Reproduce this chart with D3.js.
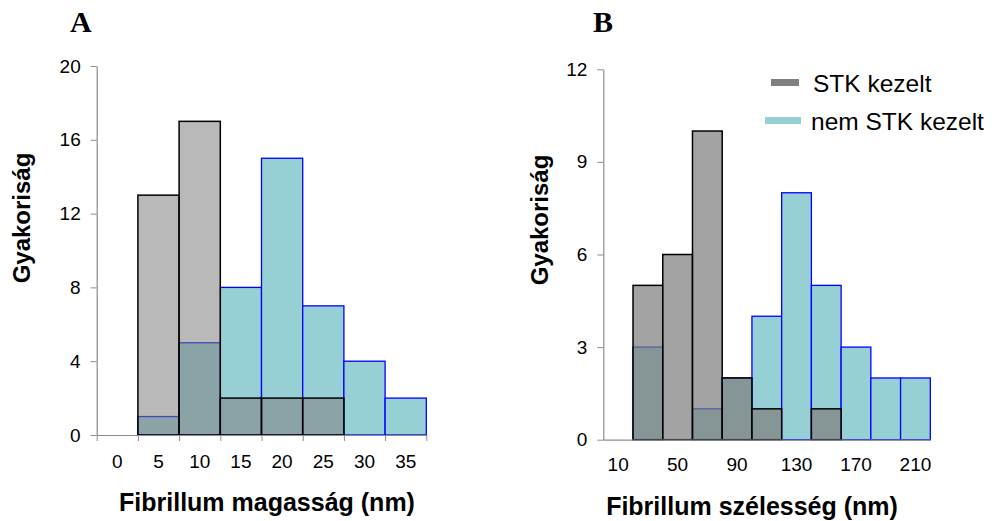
<!DOCTYPE html>
<html>
<head>
<meta charset="utf-8">
<script src="https://cdn.jsdelivr.net/npm/d3@7"></script>
<style>
  body { margin: 0; background: #fff; }
  svg { display: block; }
  .tick text { font-family: Arial, "Liberation Sans", sans-serif; }
</style>
</head>
<body>
<div id="chart"></div>
<script>
// data - panel A (height)
var heightBins = ["0", "5", "10", "15", "20", "25", "30", "35"];
var heightTreated = [0, 13, 17, 2, 2, 2, 0, 0];
var heightUntreated = [0, 1, 5, 8, 15, 7, 4, 2];
var heightTicks = [0, 4, 8, 12, 16, 20];

// data - panel B (width)
var widthBins = ["10", "30", "50", "70", "90", "110", "130", "150", "170", "190", "210"];
var widthTreated = [0, 5, 6, 10, 2, 1, 0, 1, 0, 0, 0];
var widthUntreated = [0, 3, 0, 1, 2, 4, 8, 5, 3, 2, 2];
var widthTicks = [0, 3, 6, 9, 12];
var widthLabels = ["10", "50", "90", "130", "170", "210"];

var seriesNames = ["STK kezelt", "nem STK kezelt"];

var tealColor = "#96cfd4";
var grayColor = "#808080";
var axisColor = "#8c8c8c";

var svg = d3.select("#chart")
    .append("svg")
    .attr("width", 992)
    .attr("height", 521);

function drawPanel(opt) {
    var x = d3.scaleBand()
        .domain(opt.bins)
        .range([opt.left, opt.right])
        .padding(0);

    var y = d3.scaleLinear()
        .domain([0, opt.ymax])
        .range([opt.bottom, opt.top]);

    var g = svg.append("g");

    // untreated (teal) bars underneath
    g.append("g")
        .selectAll("rect")
        .data(opt.untreated.map(function (v, i) { return { bin: opt.bins[i], v: v }; })
            .filter(function (d) { return d.v > 0; }))
        .join("rect")
        .attr("x", function (d) { return x(d.bin); })
        .attr("y", function (d) { return y(d.v); })
        .attr("width", x.bandwidth())
        .attr("height", function (d) { return y(0) - y(d.v); })
        .attr("fill", tealColor)
        .attr("stroke", "#0000ff")
        .attr("stroke-width", 1.3);

    // treated (gray) bars on top, see-through
    g.append("g")
        .selectAll("rect")
        .data(opt.treated.map(function (v, i) { return { bin: opt.bins[i], v: v }; })
            .filter(function (d) { return d.v > 0; }))
        .join("rect")
        .attr("x", function (d) { return x(d.bin); })
        .attr("y", function (d) { return y(d.v); })
        .attr("width", x.bandwidth())
        .attr("height", function (d) { return y(0) - y(d.v); })
        .attr("fill", grayColor)
        .attr("fill-opacity", opt.grayAlpha)
        .attr("stroke", "#000")
        .attr("stroke-width", 1.5);

    // y axis
    var yAxis = g.append("g")
        .attr("transform", "translate(" + opt.left + ",0)")
        .call(d3.axisLeft(y).tickValues(opt.yticks).tickSize(6).tickSizeOuter(0).tickPadding(10));
    yAxis.selectAll("text").style("font-size", "19px").attr("fill", "#000");

    // x axis labels
    var xAxis = g.append("g")
        .attr("transform", "translate(0," + opt.bottom + ")")
        .call(d3.axisBottom(x).tickValues(opt.xlabels).tickSize(0).tickSizeOuter(0).tickPadding(opt.xpad));
    xAxis.selectAll("text").style("font-size", "19px").attr("fill", "#000");

    // tick marks at bin edges (panel A only)
    if (opt.edgeTicks) {
        var edges = d3.scaleLinear().domain([0, opt.bins.length]).range([opt.left, opt.right]);
        var edgeAxis = g.append("g")
            .attr("transform", "translate(0," + opt.bottom + ")")
            .call(d3.axisBottom(edges).ticks(opt.bins.length).tickSize(6).tickSizeOuter(0).tickFormat(""));
        edgeAxis.select(".domain").remove();
        edgeAxis.selectAll("line").attr("stroke", axisColor);
    }

    g.selectAll(".domain").attr("stroke", axisColor).attr("stroke-width", 1.2);
    g.selectAll(".tick line").attr("stroke", axisColor);

    // y title
    g.append("text")
        .attr("transform", "translate(" + opt.ytitleX + "," + opt.ytitleY + ") rotate(-90)")
        .attr("text-anchor", "middle")
        .style("font-family", "Arial, 'Liberation Sans', sans-serif")
        .style("font-size", "24px")
        .style("font-weight", 700)
        .text("Gyakoriság");

    // x title
    g.append("text")
        .attr("x", opt.xtitleX)
        .attr("y", opt.xtitleY)
        .attr("text-anchor", "middle")
        .style("font-family", "Arial, 'Liberation Sans', sans-serif")
        .style("font-size", "25px")
        .style("font-weight", 700)
        .text(opt.xtitle);

    // panel letter
    g.append("text")
        .attr("x", opt.letterX)
        .attr("y", 32)
        .style("font-family", "'Times New Roman', 'Liberation Serif', serif")
        .style("font-size", "30px")
        .style("font-weight", 700)
        .text(opt.letter);
}

drawPanel({
    bins: heightBins, treated: heightTreated, untreated: heightUntreated,
    yticks: heightTicks, ymax: 20, xlabels: heightBins,
    left: 96.7, right: 426.3, top: 66, bottom: 435,
    grayAlpha: 0.55, edgeTicks: true, xpad: 20,
    ytitleX: 30, ytitleY: 218, xtitleX: 267, xtitleY: 511,
    xtitle: "Fibrillum magasság (nm)", letter: "A", letterX: 70
});

drawPanel({
    bins: widthBins, treated: widthTreated, untreated: widthUntreated,
    yticks: widthTicks, ymax: 12, xlabels: widthLabels,
    left: 603.3, right: 930.3, top: 69.3, bottom: 439.7,
    grayAlpha: 0.72, edgeTicks: false, xpad: 18,
    ytitleX: 548, ytitleY: 220, xtitleX: 752, xtitleY: 515,
    xtitle: "Fibrillum szélesség (nm)", letter: "B", letterX: 593
});

// legend
var legend = svg.append("g");
var legendColors = [grayColor, tealColor];
var legendRows = legend.selectAll("g")
    .data(seriesNames)
    .join("g")
    .attr("transform", function (d, i) { return "translate(0," + (i * 38) + ")"; });

legendRows.append("rect")
    .attr("x", function (d, i) { return i === 0 ? 771 : 765; })
    .attr("y", 79)
    .attr("width", function (d, i) { return i === 0 ? 28 : 36; })
    .attr("height", 7)
    .attr("fill", function (d, i) { return legendColors[i]; });

legendRows.append("text")
    .attr("x", function (d, i) { return i === 0 ? 813 : 811; })
    .attr("y", 92)
    .style("font-family", "Arial, 'Liberation Sans', sans-serif")
    .style("font-size", "24.5px")
    .attr("fill", "#000")
    .text(function (d) { return d; });
</script>
</body>
</html>
